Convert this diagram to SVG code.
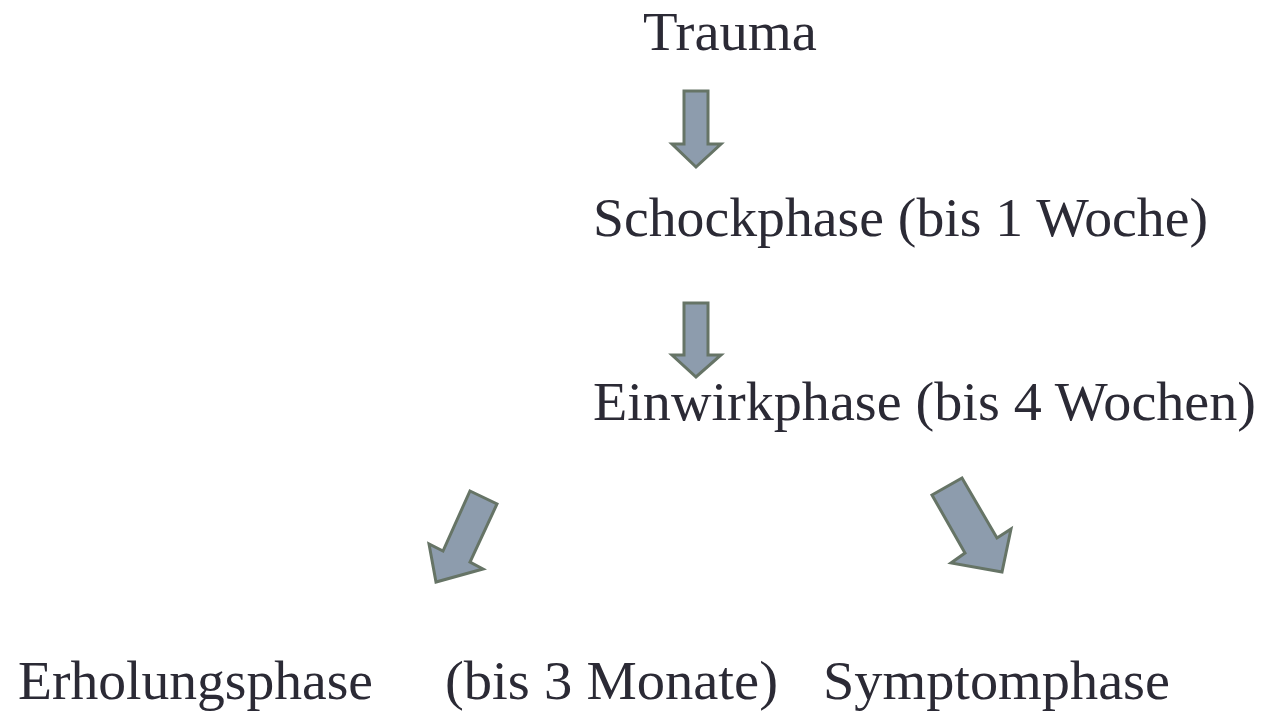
<svg xmlns="http://www.w3.org/2000/svg" width="1264" height="716" viewBox="0 0 1264 716">
<style>
.t{font-family:"Liberation Serif","DejaVu Serif",serif;font-size:55px;fill:#2b2a35}
.a{fill:#8d9cad;stroke:#667466;stroke-width:3;stroke-linejoin:miter}
</style>
<rect width="1264" height="716" fill="#ffffff"/>
<g id="trauma"><text class="t" x="643" y="50" textLength="174" lengthAdjust="spacingAndGlyphs">Trauma</text></g>
<g id="schockphase"><text class="t" x="593" y="236" textLength="615" lengthAdjust="spacingAndGlyphs">Schockphase (bis 1 Woche)</text></g>
<g id="einwirkphase"><text class="t" x="593" y="420" textLength="663" lengthAdjust="spacingAndGlyphs">Einwirkphase (bis 4 Wochen)</text></g>
<g id="erholungsphase"><text class="t" y="699"><tspan x="18" textLength="355" lengthAdjust="spacingAndGlyphs">Erholungsphase</tspan><tspan x="445" textLength="333" lengthAdjust="spacingAndGlyphs">(bis 3 Monate)</tspan></text></g>
<g id="symptomphase"><text class="t" x="823" y="699" textLength="347" lengthAdjust="spacingAndGlyphs">Symptomphase</text></g>
<g id="connectors">
<polygon class="a" points="684,91 708,91 708,144 721,144 696,167 672,144 684,144"/>
<polygon class="a" points="684,303 708,303 708,355 721,355 696,377 672,355 684,355"/>
<polygon class="a" points="470,491 497,504 470,562 483,569 436,582 429,544 443,551"/>
<polygon class="a" points="932,495 962,478 997,538 1011,529 1002,572 951,563 965,553"/>
</g>
</svg>
